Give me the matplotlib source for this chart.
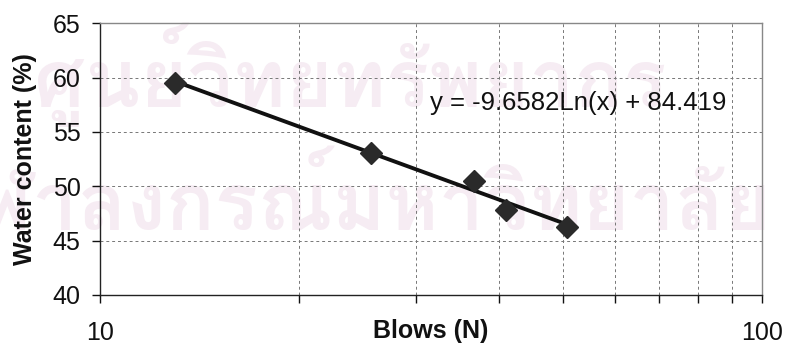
import numpy as np
import matplotlib
matplotlib.use("Agg")
import matplotlib.pyplot as plt
from matplotlib.ticker import FixedLocator, NullFormatter
from matplotlib import font_manager
from matplotlib.ft2font import FT2Font

# Data
blows = [13.0, 25.7, 36.7, 41.0, 50.7]
water_content = [59.5, 53.05, 50.45, 47.85, 46.25]
# Trend line coefficients (log fit shown on the chart)
trend_a = -9.6582
trend_b = 84.419
trend_label = "y = -9.6582Ln(x) + 84.419"
y_ticks = [40, 45, 50, 55, 60, 65]
x_major = [10, 100]
x_minor = [20, 30, 40, 50, 60, 70, 80, 90]
watermark_lines = ["ศูนย์วิทยทรัพยากร", "จุฬาลงกรณ์มหาวิทยาลัย"]

plt.rcParams['font.family'] = ['Liberation Sans', 'DejaVu Sans']

fig = plt.figure(figsize=(7.88, 3.47), dpi=100)
ax = fig.add_axes([100/788, 1-295/347, 662/788, (295-23.3)/347])
ax.set_zorder(1)
ax.patch.set_alpha(0)

# faint watermark of the scanned page, if a Thai-capable font exists
thai_font = None
for f in font_manager.fontManager.ttflist:
    try:
        ft = FT2Font(f.fname)
        cmap = ft.get_charmap()
        if all(ord(c) in cmap for c in "".join(watermark_lines)):
            thai_font = f.fname
            break
    except Exception:
        pass
if thai_font is not None:
    fp = font_manager.FontProperties(fname=thai_font, size=58)
    fig.text(667/788, 1-107/347, watermark_lines[0], fontproperties=fp, color='#f6ecf3',
             ha='right', va='baseline', zorder=0)
    fig.text(772/788, 1-230/347, watermark_lines[1], fontproperties=fp, color='#f6ecf3',
             ha='right', va='baseline', zorder=0)

ax.set_xscale('log')
ax.set_xlim(10, 100)
ax.set_ylim(40, 65)

ax.set_yticks(y_ticks)
ax.xaxis.set_major_locator(FixedLocator(x_major))
ax.xaxis.set_minor_locator(FixedLocator(x_minor))
ax.xaxis.set_minor_formatter(NullFormatter())
ax.set_xticklabels([str(v) for v in x_major])
ax.grid(axis='y', which='major', color='#777777', linestyle=(0, (3, 3)), linewidth=0.7)
ax.grid(axis='x', which='minor', color='#777777', linestyle=(0, (3, 3)), linewidth=0.7)
ax.set_axisbelow(True)

# trend line
xt = np.linspace(min(blows), max(blows), 100)
yt = trend_a * np.log(xt) + trend_b
ax.plot(xt, yt, color='#111111', linewidth=2.8, zorder=3)

# data points
ax.plot(blows, water_content, linestyle='none', marker='D', markersize=11,
        markerfacecolor='#2a2a2a', markeredgecolor='#2a2a2a', zorder=4)

ax.text(31.5, 57.7, trend_label, ha='left', va='center', fontsize=18.5, color='#111111')

for s in ['top', 'right']:
    ax.spines[s].set_color('#888888')
    ax.spines[s].set_linewidth(1.0)
for s in ['left', 'bottom']:
    ax.spines[s].set_color('#222222')
    ax.spines[s].set_linewidth(1.0)

ax.tick_params(axis='y', which='major', direction='out', length=6, width=1, pad=8,
               labelsize=18, colors='#111111')
ax.tick_params(axis='x', which='both', direction='out', length=6, width=1,
               colors='#111111')
ax.tick_params(axis='x', which='major', pad=13, labelsize=18)

ax.set_xlabel('Blows (N)', fontsize=18, fontweight='bold', color='#111111')
ax.xaxis.set_label_coords(0.5, -0.09)
ax.set_ylabel('Water content (%)', fontsize=18, fontweight='bold', color='#111111')
ax.yaxis.set_label_coords(-0.095, 0.5)

fig.savefig('out.png', dpi=100)
